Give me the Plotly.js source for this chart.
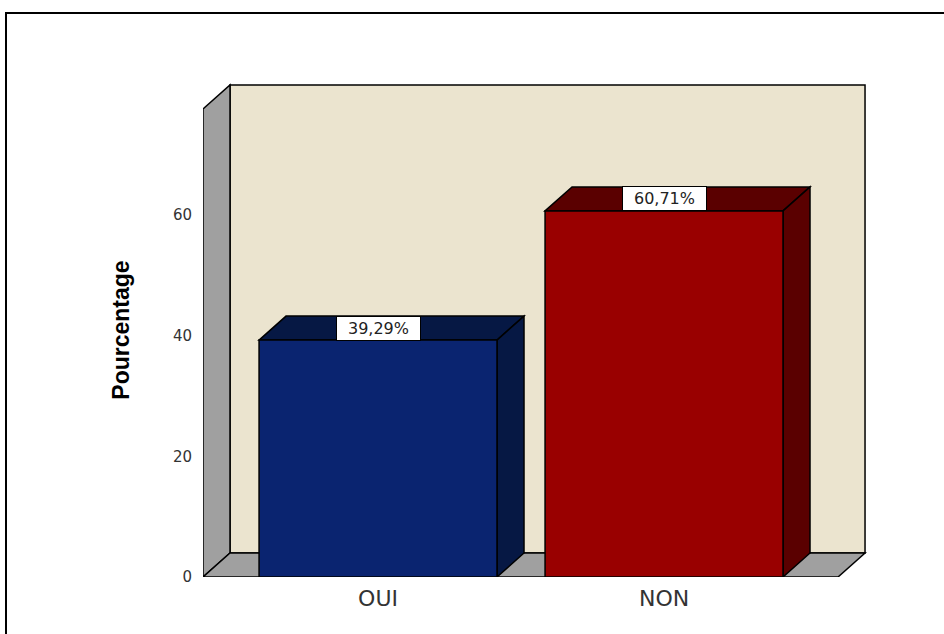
<!DOCTYPE html>
<html>
<head>
<meta charset="utf-8">
<script src="https://cdn.plot.ly/plotly-3.0.1.min.js"></script>
<style>
  html, body { margin: 0; padding: 0; background: #ffffff; }
  #chart { width: 944px; height: 634px; }
  #frame { position: absolute; left: 5px; top: 12px; width: 1000px; height: 1000px;
           border: 2px solid #000; pointer-events: none; box-sizing: border-box; }
</style>
</head>
<body>
<div id="chart"></div>
<div id="frame"></div>
<script>
// ---- data ----
const categories = ['OUI', 'NON'];
const values = [39.29, 60.71];
const valueLabels = ['39,29%', '60,71%'];
const yTickVals = [0, 20, 40, 60];
const yTickText = ['0', '20', '40', '60'];

// ---- style / geometry (3D box look, in axis units) ----
const frontColors = ['#0a2470', '#990000'];
const darkColors = ['#061844', '#5a0000'];
const wallColor = '#ebe4cf';
const sideColor = '#a0a0a0';
const barWidth = 0.832;
const dx = 0.0944;   // depth offset along x
const dy = 3.98;     // depth offset along y
const xLeft = -0.612;            // front-left edge of the box
const xRight = 1.7028;           // back-right edge of the box
const wallTop = 81.6;            // top of the back wall
const xRange = [xLeft, xLeft + 664 / 286];
const yRange = [0, 494 / 6.03];

const xs = categories.map((c, i) => i);

const shapes = [];
const edge = { color: '#000', width: 1.5 };
// back wall
shapes.push({ type: 'rect', xref: 'x', yref: 'y', layer: 'below',
  x0: xLeft + dx, x1: xRight, y0: dy, y1: wallTop,
  fillcolor: wallColor, line: edge });
// left side wall
shapes.push({ type: 'path', xref: 'x', yref: 'y', layer: 'below',
  path: `M${xLeft},0 L${xLeft},${wallTop - dy} L${xLeft + dx},${wallTop} L${xLeft + dx},${dy} Z`,
  fillcolor: sideColor, line: edge });
// floor
shapes.push({ type: 'path', xref: 'x', yref: 'y', layer: 'below',
  path: `M${xLeft},0 L${xLeft + dx},${dy} L${xRight},${dy} L${xRight - dx},0 Z`,
  fillcolor: sideColor, line: edge });
// bar tops and sides
xs.forEach((x, i) => {
  const v = values[i];
  const l = x - barWidth / 2, r = x + barWidth / 2;
  shapes.push({ type: 'path', xref: 'x', yref: 'y', layer: 'below',
    path: `M${l},${v} L${l + dx},${v + dy} L${r + dx},${v + dy} L${r},${v} Z`,
    fillcolor: darkColors[i], line: edge });
  shapes.push({ type: 'path', xref: 'x', yref: 'y', layer: 'below',
    path: `M${r},0 L${r + dx},${dy} L${r + dx},${v + dy} L${r},${v} Z`,
    fillcolor: darkColors[i], line: edge });
});

const annotations = xs.map((x, i) => ({
  x: x, y: values[i] + dy / 2, xref: 'x', yref: 'y',
  text: valueLabels[i], showarrow: false,
  bgcolor: '#ffffff', bordercolor: '#000', borderwidth: 1,
  width: 81, height: 21,
  font: { family: 'DejaVu Sans, Arial, sans-serif', size: 16, color: '#222' }
}));

const trace = {
  type: 'bar', x: xs, y: values, width: barWidth,
  marker: { color: frontColors, line: { color: '#000', width: 1.5 } },
  hoverinfo: 'skip'
};

const layout = {
  width: 944, height: 634,
  margin: { l: 203, r: 77, t: 83, b: 57, autoexpand: false },
  paper_bgcolor: '#ffffff', plot_bgcolor: '#ffffff',
  showlegend: false,
  xaxis: {
    range: xRange, tickvals: xs, ticktext: categories,
    showgrid: false, zeroline: false, showline: false, ticks: '',
    ticklabelstandoff: 6,
    tickfont: { family: 'DejaVu Sans, Arial, sans-serif', size: 22, color: '#333' },
    fixedrange: true
  },
  yaxis: {
    range: yRange, tickvals: yTickVals, ticktext: yTickText,
    showgrid: false, zeroline: false, showline: false, ticks: '',
    ticklabelstandoff: 10,
    tickfont: { family: 'DejaVu Sans, Arial, sans-serif', size: 15, color: '#333' },
    title: { text: 'Pourcentage', standoff: 36,
      font: { family: 'Liberation Sans, Arial, sans-serif', size: 23, color: '#000', weight: 'bold' } },
    fixedrange: true
  },
  shapes: shapes,
  annotations: annotations
};

Plotly.newPlot('chart', [trace], layout, { displayModeBar: false, staticPlot: true });
</script>
</body>
</html>
